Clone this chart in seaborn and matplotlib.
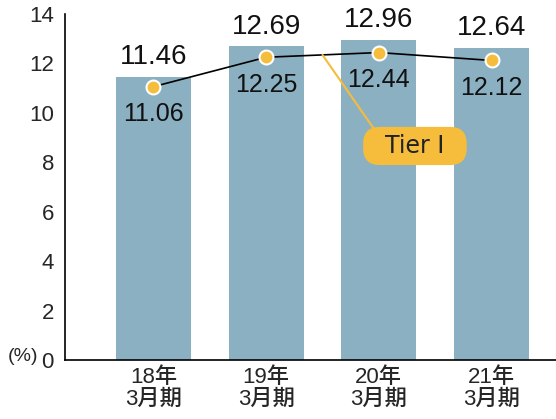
import matplotlib
matplotlib.use("Agg")
import matplotlib.pyplot as plt
import seaborn as sns
import pandas as pd

categories = ["18年\n3月期", "19年\n3月期", "20年\n3月期", "21年\n3月期"]
total_ratio = [11.46, 12.69, 12.96, 12.64]
tier1_ratio = [11.06, 12.25, 12.44, 12.12]
yticks = [0, 2, 4, 6, 8, 10, 12, 14]

sns.set_style("white")
plt.rcParams['font.family'] = ['Liberation Sans', 'Noto Sans CJK JP', 'DejaVu Sans']

df = pd.DataFrame({"cat": categories, "total": total_ratio, "tier1": tier1_ratio})

fig = plt.figure(figsize=(5.56, 4.19), dpi=100)
ax = fig.add_axes([65/556, 1-360/419, 1-65/556, (360-14)/419])

sns.barplot(data=df, x="cat", y="total", color="#8AB0C2", saturation=1,
            width=0.666, ax=ax, edgecolor="none")
xs = list(range(len(categories)))
ax.plot(xs, tier1_ratio, color="black", lw=1.2, zorder=3)
ax.plot(xs, tier1_ratio, ls="none", marker="o", ms=10, mfc="#F6BC3B",
        mec="white", mew=1.5, zorder=4)

for i, (t, v) in enumerate(zip(total_ratio, tier1_ratio)):
    ax.annotate(f"{t:.2f}", (i, t), xytext=(0, 14), textcoords="offset points",
                ha="center", va="center", fontsize=20, color="#111111", zorder=5)
    ax.annotate(f"{v:.2f}", (i, v), xytext=(0, -20), textcoords="offset points",
                ha="center", va="center", fontsize=18, color="#111111", zorder=5)

# Tier I callout
mid_y = (tier1_ratio[1] + tier1_ratio[2]) / 2
ax.annotate("  Tier I  ", xy=(1.5, mid_y), xytext=(2.32, 8.66),
            ha="center", va="center", fontsize=17, color="#222222",
            family=["DejaVu Sans"],
            bbox=dict(boxstyle="round,pad=0.3,rounding_size=0.7", fc="#F6BC3B", ec="none"),
            arrowprops=dict(arrowstyle="-", color="#F6BC3B", lw=1.5,
                            relpos=(0.1, 0.9), shrinkA=0, shrinkB=0),
            zorder=6)

ax.set_xlim(-0.785, 3.572)
ax.set_ylim(0, 14)
ax.set_yticks(yticks)
ax.set_yticklabels([str(y) for y in yticks], fontsize=16)
ax.tick_params(axis="both", length=0, pad=8)
ax.tick_params(axis="x", labelsize=16, pad=5)
for lab in ax.get_xticklabels():
    lab.set_linespacing(1.05)
    lab.set_fontweight("medium")
ax.set_xlabel("")
ax.set_ylabel("")
for s in ["top", "right"]:
    ax.spines[s].set_visible(False)
for s in ["left", "bottom"]:
    ax.spines[s].set_color("black")
    ax.spines[s].set_linewidth(1.2)

fig.text(8/556, 1-356/419, "(%)", fontsize=14, ha="left", va="center")

fig.savefig("out.png", dpi=100)
